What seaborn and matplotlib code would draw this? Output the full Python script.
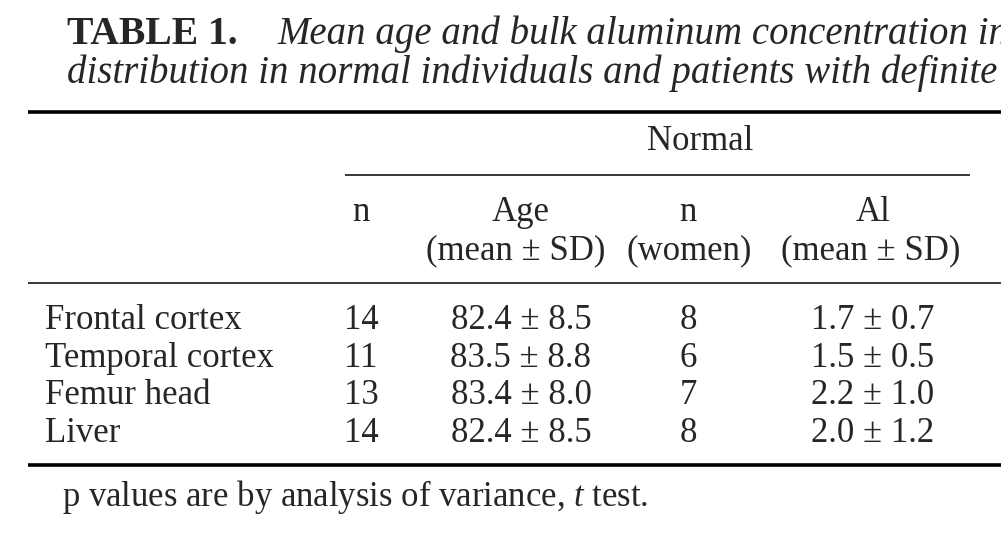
import matplotlib
matplotlib.use("Agg")
import matplotlib.pyplot as plt
import seaborn as sns

# ----------------------------------------------------------------
# DATA (Table 1, normal individuals)
# ----------------------------------------------------------------
tissues = ["Frontal cortex", "Temporal cortex", "Femur head", "Liver"]
n_subjects = [14, 11, 13, 14]
age_mean = [82.4, 83.5, 83.4, 82.4]
age_sd = [8.5, 8.8, 8.0, 8.5]
n_women = [8, 6, 7, 8]
al_mean = [1.7, 1.5, 2.2, 2.0]
al_sd = [0.7, 0.5, 1.0, 1.2]

# title as visible in the reference (it runs off the right edge there)
title_label = "TABLE 1."
title_line1 = "Mean age and bulk aluminum concentration in"
title_line2 = "distribution in normal individuals and patients with definite"
group_label = "Normal"
col_top = ["n", "Age", "n", "Al"]
col_bottom = ["", "(mean \u00b1 SD)", "(women)", "(mean \u00b1 SD)"]
footnote = r"p values are by analysis of variance, $\mathit{t}$ test."

# ----------------------------------------------------------------
# SETUP
# ----------------------------------------------------------------
sns.set_theme(style="white")
plt.rcParams['font.family'] = ['Liberation Serif', 'DejaVu Serif']
plt.rcParams['mathtext.fontset'] = 'custom'
plt.rcParams['mathtext.rm'] = 'Liberation Serif'
plt.rcParams['mathtext.it'] = 'Liberation Serif:italic'

W, H = 1001, 559
fig = plt.figure(figsize=(W / 100, H / 100), dpi=100)
ax = fig.add_axes([0, 0, 1, 1])
ax.set_xlim(0, W)
ax.set_ylim(H, 0)
ax.axis("off")

FS = 25
col_x = [361, 521, 688, 873]
sub_x = [361, 516, 689, 871]
row_y = [329, 367, 404, 442]

# title
ax.text(67, 44, title_label, fontsize=28.5, fontweight='bold', va='baseline', ha='left')
ax.text(277, 44, title_line1, fontsize=28, style='italic', va='baseline', ha='left')
ax.text(67, 83, title_line2, fontsize=28, style='italic', va='baseline', ha='left')

# rules
ax.plot([28, W], [112, 112], color='black', lw=2.6, solid_capstyle='butt')
ax.plot([345, 970], [175, 175], color='black', lw=1.1, solid_capstyle='butt')
ax.plot([28, W], [283, 283], color='black', lw=1.1, solid_capstyle='butt')
ax.plot([28, W], [465, 465], color='black', lw=2.6, solid_capstyle='butt')

# header
ax.text(700, 150, group_label, fontsize=FS, ha='center', va='baseline')
for x, top in zip(col_x, col_top):
    ax.text(x, 221, top, fontsize=FS, ha='center', va='baseline')
for x, bot in zip(sub_x, col_bottom):
    if bot:
        ax.text(x, 259, bot, fontsize=FS, ha='center', va='baseline')

# body
for i, name in enumerate(tissues):
    y = row_y[i]
    ax.text(45, y, name, fontsize=FS, ha='left', va='baseline')
    ax.text(col_x[0], y, f"{n_subjects[i]}", fontsize=FS, ha='center', va='baseline')
    ax.text(col_x[1], y, f"{age_mean[i]:.1f} \u00b1 {age_sd[i]:.1f}", fontsize=FS, ha='center', va='baseline')
    ax.text(col_x[2], y, f"{n_women[i]}", fontsize=FS, ha='center', va='baseline')
    ax.text(col_x[3], y, f"{al_mean[i]:.1f} \u00b1 {al_sd[i]:.1f}", fontsize=FS, ha='center', va='baseline')

ax.text(62, 506, footnote, fontsize=FS, ha='left', va='baseline')

fig.savefig("out.png", dpi=100)
